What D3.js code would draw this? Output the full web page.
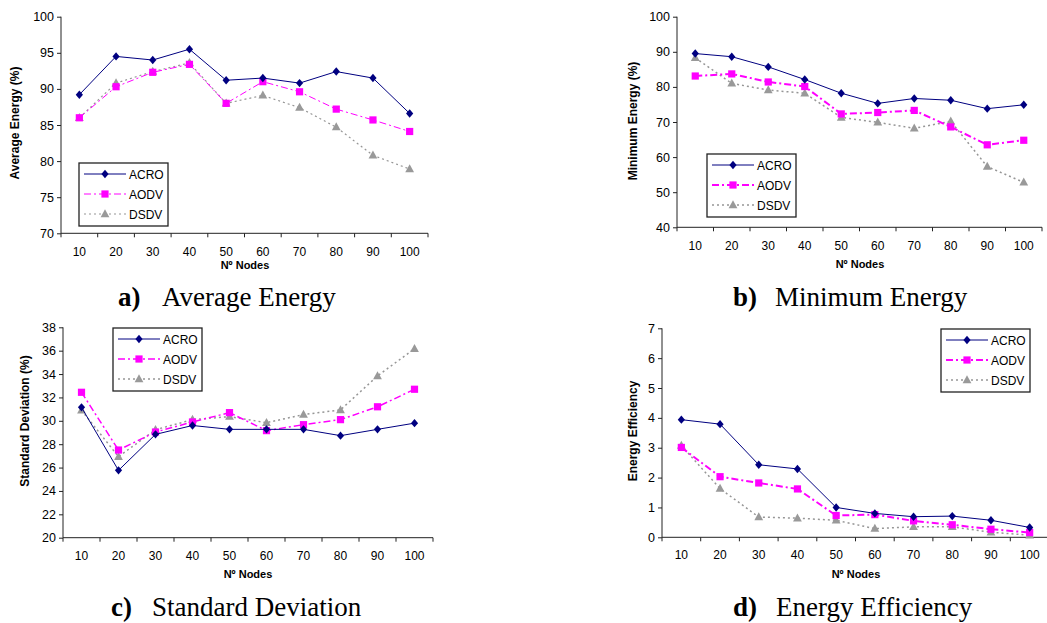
<!DOCTYPE html>
<html>
<head>
<meta charset="utf-8">
<script src="https://cdn.jsdelivr.net/npm/d3@7"></script>
<style>
  html, body { margin: 0; padding: 0; background: #fff; }
  svg { display: block; }
  text { font-family: "Liberation Sans", Arial, sans-serif; fill: #000; }
</style>
</head>
<body>
<svg id="chart" width="1047" height="623"></svg>
<script>
// ---------- data ----------
const nodes = [10, 20, 30, 40, 50, 60, 70, 80, 90, 100];
const seriesNames = ["ACRO", "AODV", "DSDV"];

const avgACRO = [89.2, 94.5, 94.0, 95.5, 91.2, 91.5, 90.8, 92.4, 91.5, 86.6];
const avgAODV = [86.0, 90.3, 92.3, 93.4, 88.0, 91.0, 89.6, 87.2, 85.7, 84.1];
const avgDSDV = [86.0, 90.8, 92.4, 93.6, 88.0, 89.1, 87.4, 84.7, 80.8, 78.9];

const minACRO = [89.5, 88.6, 85.7, 82.1, 78.2, 75.3, 76.7, 76.2, 73.8, 74.9];
const minAODV = [83.1, 83.7, 81.4, 80.1, 72.3, 72.7, 73.3, 68.6, 63.5, 64.8];
const minDSDV = [88.3, 81.0, 79.1, 78.2, 71.3, 69.9, 68.2, 70.2, 57.3, 52.8];

const sdACRO = [31.15, 25.76, 28.84, 29.6, 29.27, 29.27, 29.27, 28.73, 29.27, 29.8];
const sdAODV = [32.44, 27.5, 29.04, 29.9, 30.7, 29.16, 29.67, 30.1, 31.2, 32.7];
const sdDSDV = [30.9, 26.93, 29.24, 30.1, 30.36, 29.84, 30.53, 30.93, 33.84, 36.17];

const effACRO = [3.94, 3.79, 2.43, 2.29, 1.0, 0.80, 0.69, 0.71, 0.57, 0.33];
const effAODV = [3.01, 2.03, 1.82, 1.62, 0.73, 0.76, 0.55, 0.42, 0.27, 0.16];
const effDSDV = [3.07, 1.63, 0.68, 0.64, 0.57, 0.29, 0.35, 0.35, 0.17, 0.07];

const avgTicks = [70, 75, 80, 85, 90, 95, 100];
const minTicks = [40, 50, 60, 70, 80, 90, 100];
const sdTicks = [20, 22, 24, 26, 28, 30, 32, 34, 36, 38];
const effTicks = [0, 1, 2, 3, 4, 5, 6, 7];

const xTitle = "Nº Nodes";
const captions = [
  { tag: "a)", text: "Average Energy" },
  { tag: "b)", text: "Minimum Energy" },
  { tag: "c)", text: "Standard Deviation" },
  { tag: "d)", text: "Energy Efficiency" }
];

// ---------- styles ----------
const styles = {
  ACRO: { color: "#000080", dash: null, shape: "diamond" },
  AODV: { color: "#FF00FF", dash: "7,3,2,3", shape: "square" },
  DSDV: { color: "#969696", dash: "2,3", shape: "triangle" }
};

const svg = d3.select("#chart");

function marker(g, shape, x, y, color) {
  if (shape === "diamond") {
    g.append("path")
      .attr("d", `M${x},${y-4.2}L${x+3.6},${y}L${x},${y+4.2}L${x-3.6},${y}Z`)
      .attr("fill", color);
  } else if (shape === "square") {
    g.append("rect").attr("x", x - 3.6).attr("y", y - 3.6)
      .attr("width", 7.2).attr("height", 7.2).attr("fill", color);
  } else {
    g.append("path")
      .attr("d", `M${x},${y-4.8}L${x+4.4},${y+3.2}L${x-4.4},${y+3.2}Z`)
      .attr("fill", "#999999");
  }
}

function panel(cfg) {
  const g = svg.append("g");
  const x = d3.scaleBand().domain(nodes).range([cfg.x0, cfg.x1]);
  const y = d3.scaleLinear().domain([cfg.ticks[0], cfg.ticks[cfg.ticks.length - 1]]).range([cfg.yb, cfg.yt]);

  // y axis
  const ya = g.append("g").attr("transform", `translate(${cfg.x0},0)`)
    .call(d3.axisLeft(y).tickValues(cfg.ticks).tickSize(4).tickPadding(3).tickFormat(d3.format("d")));
  ya.selectAll("path, line").attr("stroke", "#222").attr("stroke-width", 1);
  ya.select(".domain").attr("d", `M0,${cfg.yt}V${cfg.yb}`);
  ya.selectAll("text").style("font-size", "12.5px").style("font-family", "Liberation Sans, Arial, sans-serif").attr("fill", "#000");

  // x axis (ticks at band boundaries)
  const xa = g.append("g").attr("transform", `translate(0,${cfg.yb})`);
  xa.append("line").attr("x1", cfg.x0).attr("x2", cfg.x1).attr("stroke", "#222");
  const bounds = nodes.map(n => x(n)).concat([cfg.x1]);
  xa.selectAll("line.tk").data(bounds).join("line").attr("class", "tk")
    .attr("x1", d => d).attr("x2", d => d).attr("y1", 0).attr("y2", 4).attr("stroke", "#222");
  xa.selectAll("text").data(nodes).join("text")
    .attr("x", d => x(d) + x.bandwidth() / 2).attr("y", cfg.labDy)
    .attr("text-anchor", "middle").style("font-size", "12px").text(d => d);

  // x title
  g.append("text").attr("x", cfg.xtX).attr("y", cfg.xtY).attr("text-anchor", "middle")
    .style("font-size", "11px").style("font-weight", "bold").text(xTitle);
  // y title
  g.append("text").attr("transform", `translate(${cfg.ytX},${cfg.ytY}) rotate(-90)`)
    .attr("text-anchor", "middle").style("font-size", "12px").style("font-weight", "bold")
    .text(cfg.yTitle);

  // series
  const line = d3.line().x((d, i) => x(nodes[i]) + x.bandwidth() / 2).y(d => y(d));
  const order = ["DSDV", "AODV", "ACRO"];
  order.forEach(name => {
    const st = styles[name];
    const vals = cfg.series[name];
    g.append("path").attr("d", line(vals)).attr("fill", "none")
      .attr("stroke", st.color).attr("stroke-width", cfg.sw[name])
      .attr("stroke-dasharray", st.dash);
    vals.forEach((v, i) => marker(g, st.shape, x(nodes[i]) + x.bandwidth() / 2, y(v), st.color));
  });

  // legend
  const L = g.append("g").attr("transform", `translate(${cfg.lx},${cfg.ly})`);
  L.append("rect").attr("x", 0).attr("y", 0).attr("width", 89).attr("height", 63)
    .attr("fill", "#fff").attr("stroke", "#222").attr("stroke-width", 1.3);
  seriesNames.forEach((name, i) => {
    const st = styles[name];
    const yy = 11 + i * 20;
    L.append("line").attr("x1", 5).attr("x2", 47).attr("y1", yy).attr("y2", yy)
      .attr("stroke", st.color).attr("stroke-width", cfg.sw[name]).attr("stroke-dasharray", st.dash);
    marker(L, st.shape, 26, yy, st.color);
    L.append("text").attr("x", 50).attr("y", yy + 4.5).style("font-size", "12px").text(name);
  });
}

panel({
  x0: 61, x1: 428, yt: 16.7, yb: 233.3, ticks: avgTicks, labDy: 23,
  xtX: 245, xtY: 269, ytX: 19, ytY: 123, yTitle: "Average Energy  (%)",
  series: { ACRO: avgACRO, AODV: avgAODV, DSDV: avgDSDV },
  sw: { ACRO: 1, AODV: 1, DSDV: 1.2 }, lx: 79, ly: 163
});
panel({
  x0: 677, x1: 1042, yt: 16.7, yb: 227.3, ticks: minTicks, labDy: 23,
  xtX: 860, xtY: 268, ytX: 637, ytY: 121, yTitle: "Minimum Energy (%)",
  series: { ACRO: minACRO, AODV: minAODV, DSDV: minDSDV },
  sw: { ACRO: 1, AODV: 2, DSDV: 1.5 }, lx: 707, ly: 154
});
panel({
  x0: 63, x1: 433, yt: 327.3, yb: 537.7, ticks: sdTicks, labDy: 22,
  xtX: 248, xtY: 578, ytX: 29, ytY: 421, yTitle: "Standard Deviation (%)",
  series: { ACRO: sdACRO, AODV: sdAODV, DSDV: sdDSDV },
  sw: { ACRO: 1, AODV: 1.5, DSDV: 1.5 }, lx: 113, ly: 328
});
panel({
  x0: 662, x1: 1049, yt: 328.3, yb: 537.3, ticks: effTicks, labDy: 22,
  xtX: 856, xtY: 578, ytX: 637, ytY: 431, yTitle: "Energy Efficiency",
  series: { ACRO: effACRO, AODV: effAODV, DSDV: effDSDV },
  sw: { ACRO: 1, AODV: 2, DSDV: 1.5 }, lx: 941, ly: 329
});

// captions
const capPos = [
  { tx: 118, x: 162, y: 306 },
  { tx: 733, x: 775, y: 306 },
  { tx: 111, x: 152, y: 616 },
  { tx: 733, x: 776, y: 616 }
];
captions.forEach((c, i) => {
  const p = capPos[i];
  svg.append("text").attr("x", p.tx).attr("y", p.y)
    .style("font-family", "Liberation Serif, Times New Roman, serif").style("font-size", "27px")
    .style("font-weight", "bold").text(c.tag);
  svg.append("text").attr("x", p.x).attr("y", p.y)
    .style("font-family", "Liberation Serif, Times New Roman, serif").style("font-size", "27px")
    .text(c.text);
});
</script>
</body>
</html>
